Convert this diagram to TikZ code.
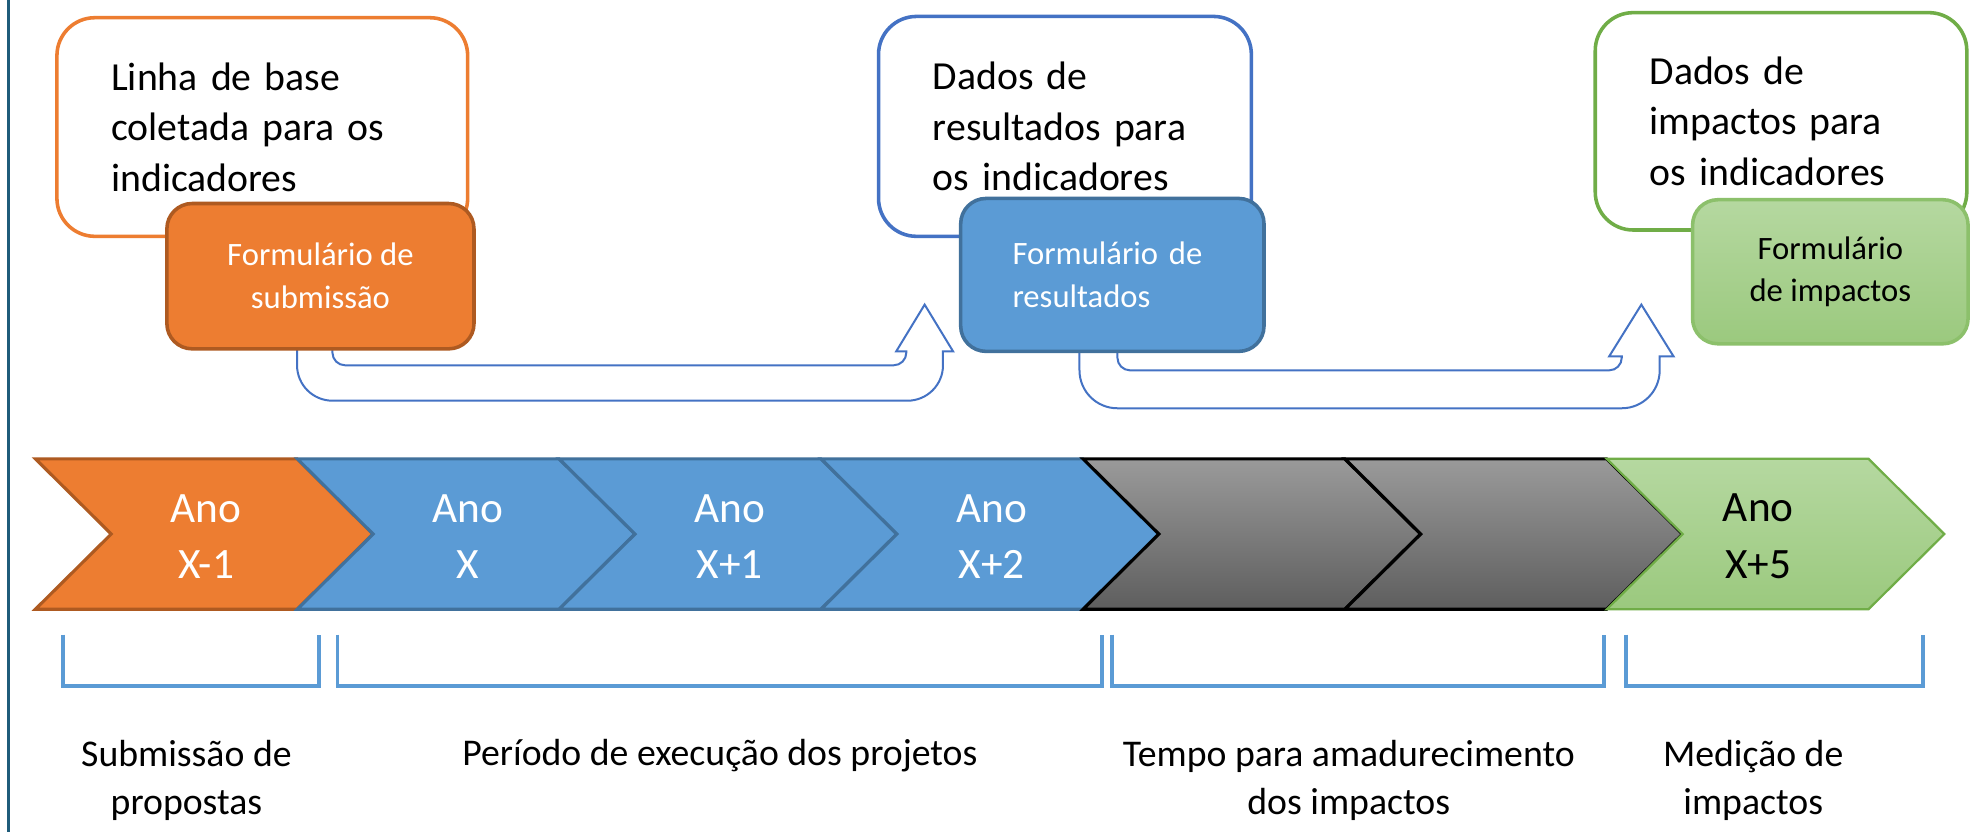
\documentclass[tikz,border=0pt]{standalone}
\usepackage{fontspec}
\setmainfont{Carlito}
\newfontfamily\boxfam{Carlito}[WordSpace=0.8]
\definecolor{orangeC}{HTML}{ED7D31}
\definecolor{orangeD}{HTML}{AE5A21}
\definecolor{blueC}{HTML}{5B9BD5}
\definecolor{blueD}{HTML}{41719C}
\definecolor{blueL}{HTML}{4472C4}
\definecolor{greenC}{HTML}{70AD47}
\definecolor{greenD}{HTML}{8CC06B}
\definecolor{greenT}{HTML}{B5D8A0}
\definecolor{greenB}{HTML}{9BC97E}
\definecolor{grayT}{HTML}{9A9A9A}
\definecolor{grayB}{HTML}{5E5E5E}
\definecolor{frameC}{HTML}{1F5C7A}
\newcommand\boxfont{\boxfam\fontsize{17.9}{22.7}\selectfont}
\newcommand\formfont{\fontsize{14.7}{19.3}\selectfont}
\newcommand\yearfont{\fontsize{19.5}{25.6}\selectfont}
\newcommand\labelfont{\fontsize{17}{21.6}\selectfont}
\begin{document}
\begin{tikzpicture}[x=0.02cm, y=0.02cm,
    outbox/.style={draw, line width=1.6pt, rounded corners=0.6cm, fill=white, align=left, inner xsep=0.86cm, font=\boxfont},
    formbox/.style={draw, line width=1.6pt, rounded corners=0.4cm, font=\formfont},
    yeartext/.style={align=center, font=\yearfont, text=white},
    labeltext/.style={align=center, font=\labelfont},
    bracket/.style={draw=blueC, line width=1.8pt},
    bentarrow/.style={draw=blueL, line width=0.9pt, fill=white},
    chev/.style={line width=1.4pt}]
    \fill[white] (0,0) rectangle (1568,658);
    \useasboundingbox (0,0) rectangle (1568,658);
    \draw[frameC, line width=1.5pt] (6.7,0) -- (6.7,658);

    \draw[bentarrow] (235,383) -- (235,369) arc[start angle=180, end angle=270, radius=28]
        -- (718,341) arc[start angle=270, end angle=360, radius=28] -- (746,380)
        -- (754,380) -- (731.5,417) -- (709,380) -- (717,380) -- (717,379)
        arc[start angle=0, end angle=-90, radius=10] -- (273,369)
        arc[start angle=270, end angle=180, radius=10] -- (263,383);
    \draw[bentarrow] (854,381) -- (854,365) arc[start angle=180, end angle=270, radius=30]
        -- (1283,335) arc[start angle=270, end angle=360, radius=30] -- (1313,376)
        -- (1324,376) -- (1298.5,417) -- (1273,376) -- (1283,376) -- (1283,375)
        arc[start angle=0, end angle=-90, radius=10] -- (894,365)
        arc[start angle=270, end angle=180, radius=10] -- (884,381);

    \node[outbox, draw=orangeC, text width=4.78cm, minimum width=6.5cm, minimum height=3.46cm] (1) at (207.5,557.5) {Linha de base\\coletada~para~os\\indicadores};
    \node[formbox, draw=orangeD, fill=orangeC, text=white, align=center, minimum width=4.86cm, minimum height=2.3cm] (2) at (253.5,439.5) {Formulário de\\submissão};
    \node[outbox, draw=blueL, text width=4.18cm, minimum width=5.9cm, minimum height=3.48cm] (3) at (842.5,558) {Dados de\\resultados~para\\os indicadores};
    \node[formbox, draw=blueD, fill=blueC, text=white, align=left, text width=3.16cm, inner xsep=0.82cm, minimum width=4.8cm, minimum height=2.42cm] (4) at (880,440.5) {Formulário de\\resultados};
    \node[outbox, draw=greenC, text width=4.16cm, minimum width=5.88cm, minimum height=3.44cm] (5) at (1409,562) {Dados de\\impactos~para\\os indicadores};
    \node[formbox, draw=greenD, top color=greenT, bottom color=greenB, align=center, minimum width=4.36cm, minimum height=2.28cm] (6) at (1448,443) {Formulário\\de impactos};

    \foreach \i/\fc/\dc in {0/orangeC/orangeD, 1/blueC/blueD, 2/blueC/blueD, 3/blueC/blueD}
        \draw[chev, draw=\dc, fill=\fc] ({28+207.2*\i},295) -- ++(207,0) -- ++(60,-59.5) -- ++(-60,-59.5) -- ++(-207,0) -- ++(60,59.5) -- cycle;
    \foreach \i in {4,5}
        \path[chev, draw=black, top color=grayT, bottom color=grayB] ({28+207.2*\i},295) -- ++(207,0) -- ++(60,-59.5) -- ++(-60,-59.5) -- ++(-207,0) -- ++(60,59.5) -- cycle;
    \path[chev, line width=1pt, draw=greenC, top color=greenT, bottom color=greenB] ({28+207.2*6},295) -- ++(207,0) -- ++(60,-59.5) -- ++(-60,-59.5) -- ++(-207,0) -- ++(60,59.5) -- cycle;

    \foreach \i/\t in {0/X-1, 1/X, 2/X+1, 3/X+2}
        \node[yeartext] (y\i) at ({163+207.2*\i},233.5) {Ano\\\t};
    \node[yeartext, text=black] (y6) at (1391,233.5) {Ano\\X+5};

    \foreach \a/\b in {50/252, 267/872, 880/1269, 1286/1521}
        \draw[bracket] (\a,156) -- (\a,115) -- (\b,115) -- (\b,156);

    \node[labeltext] (l1) at (147.5,40.5) {Submissão de\\propostas};
    \node[labeltext, anchor=base] (l2) at (569.5,52) {Período de execução dos projetos};
    \node[labeltext] (l3) at (1067,40.5) {Tempo para amadurecimento\\dos impactos};
    \node[labeltext] (l4) at (1387,40.5) {Medição de\\impactos};
\end{tikzpicture}
\end{document}
